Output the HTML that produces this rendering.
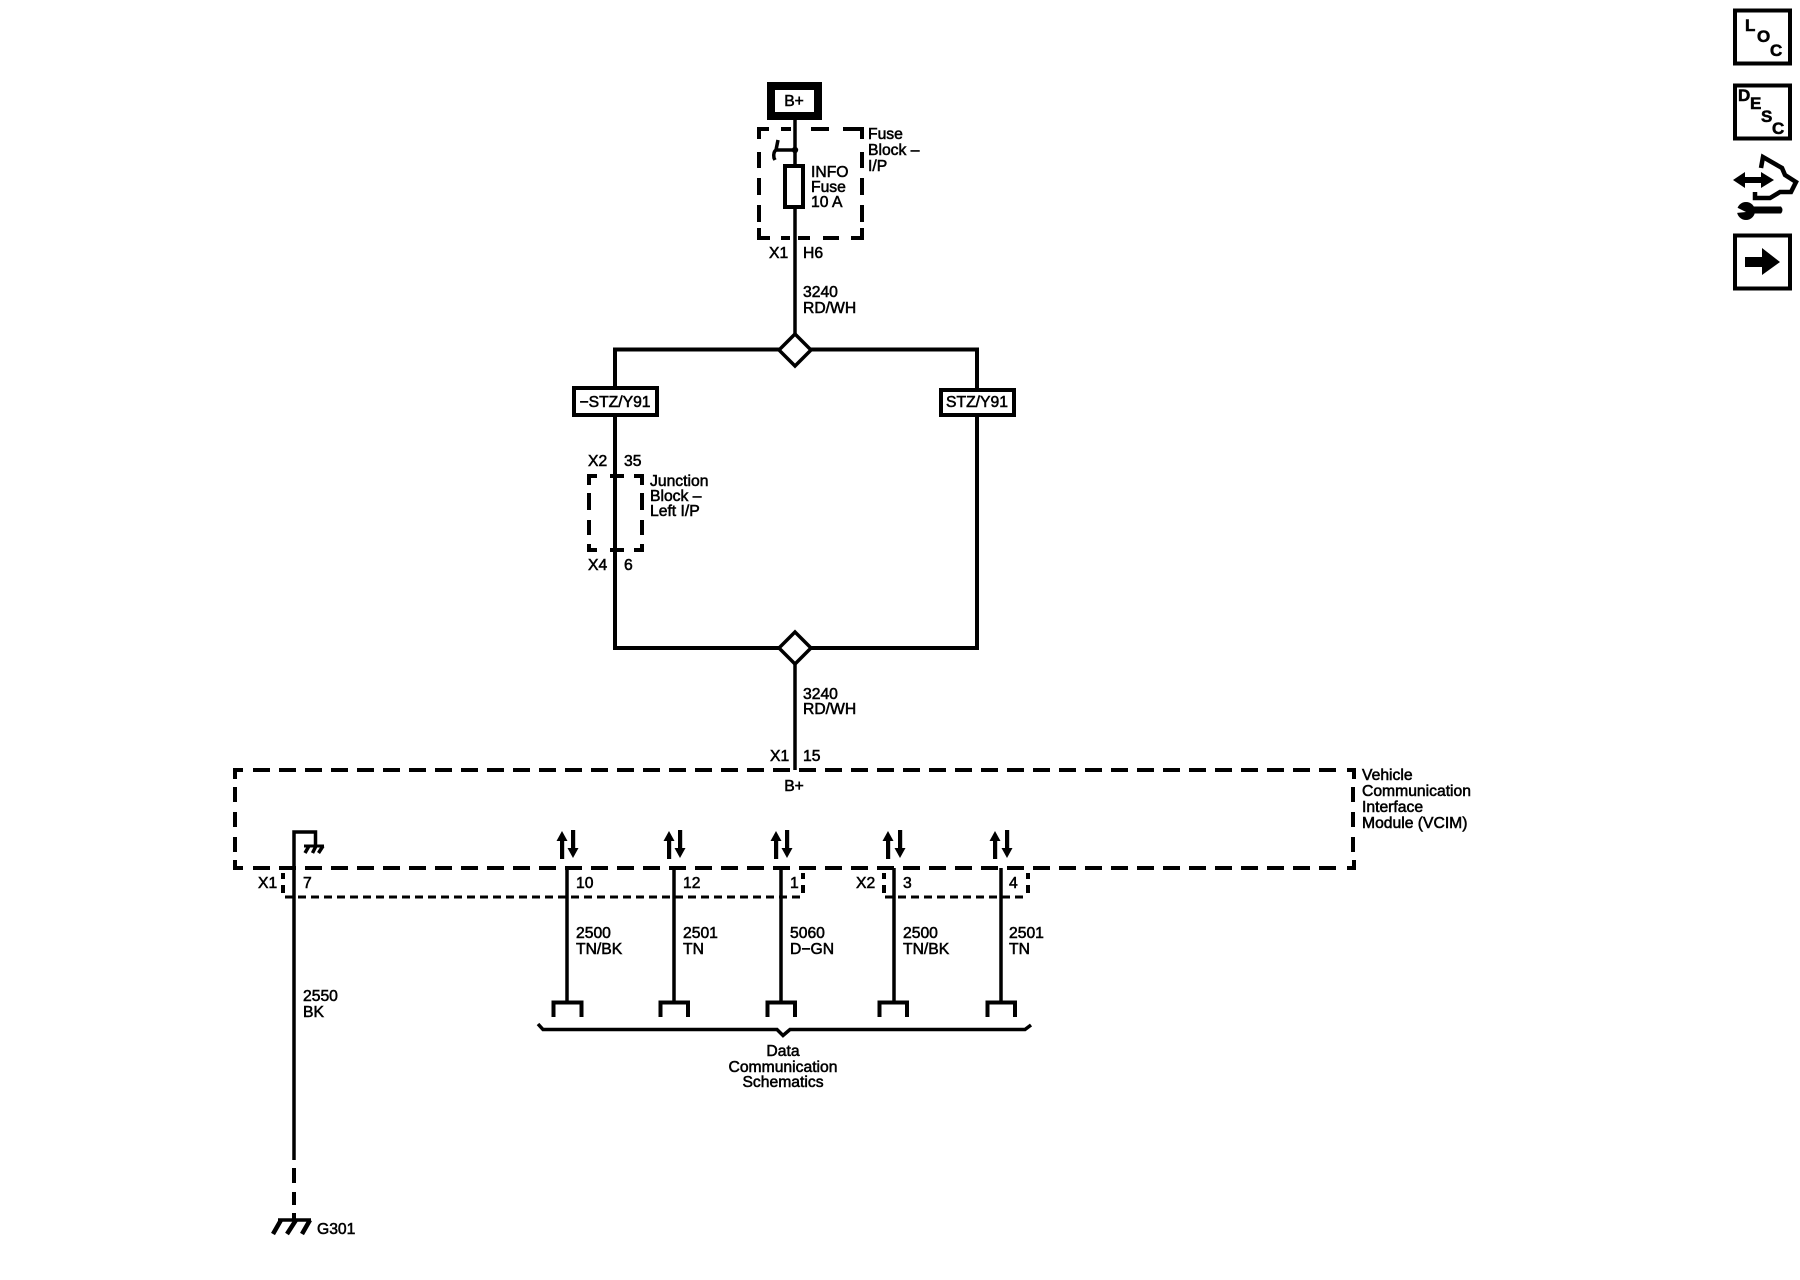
<!DOCTYPE html>
<html><head><meta charset="utf-8"><style>
html,body{margin:0;padding:0;background:#fff}
svg{display:block}
text{font-family:"Liberation Sans",sans-serif;font-size:15.7px;fill:#000;stroke:#000;stroke-width:.55px}
.m{text-anchor:middle}
.b{font-weight:bold;font-size:17px}
.w{fill:none;stroke:#000;stroke-width:3.5;stroke-linecap:butt}
.d{fill:none;stroke:#000;stroke-width:4;stroke-dasharray:17 9}
.v{fill:none;stroke:#000;stroke-width:4;stroke-dasharray:15 10}
.s{fill:none;stroke:#000;stroke-width:3;stroke-dasharray:8 5}
.f{fill:none;stroke:#000;stroke-width:4}
</style></head><body>
<svg width="1800" height="1280" viewBox="0 0 1800 1280" xmlns="http://www.w3.org/2000/svg">
<rect width="1800" height="1280" fill="#fff"/>

<!-- right icons -->
<rect x="1735" y="10.5" width="55" height="53" class="f"/>
<text class="b" x="1745" y="31">L</text><text class="b" x="1757" y="42">O</text><text class="b" x="1770" y="56">C</text>
<rect x="1735" y="85.5" width="55" height="53" class="f"/>
<text class="b" x="1738" y="101">D</text><text class="b" x="1750" y="109">E</text><text class="b" x="1761" y="122">S</text><text class="b" x="1772" y="134">C</text>
<polygon points="1733,180 1745,172 1745,177 1761,177 1761,172 1774,180 1761,188 1761,183 1745,183 1745,188" fill="#000"/>
<polyline points="1761,168 1763,157 1782,168 1785,175 1796,182 1791,192 1780,192 1770,198 1755,198 1755,192" fill="none" stroke="#000" stroke-width="4.5"/>
<circle cx="1746" cy="211" r="9" fill="#000"/>
<path d="M1750,206.5 H1781 Q1784,210 1781,213.5 H1750Z" fill="#000"/>
<path d="M1736,207 L1746,212 L1736,213Z" fill="#fff"/>
<rect x="1735" y="235.5" width="55" height="53" class="f"/>
<polygon points="1745,257 1762,257 1762,248 1780,262 1762,275 1762,267 1745,267" fill="#000"/>

<!-- top wire -->
<line x1="795" y1="120" x2="795" y2="340" class="w"/>

<!-- B+ box -->
<rect x="771" y="86" width="47" height="30" fill="#fff" stroke="#000" stroke-width="8"/>
<text class="m" x="794" y="106">B+</text>

<!-- Fuse block dashed -->
<g fill="none" stroke="#000" stroke-width="4">
<path d="M769,129 H759 V139"/>
<path d="M781,129 H791 M811,129 H829 M843,129 H862 V139"/>
<path d="M759,152 V168 M759,178 V195 M759,205 V222 M759,228 V238 H770"/>
<path d="M862,152 V168 M862,178 V195 M862,205 V222 M862,228 V238 H851"/>
<path d="M781,238 H790 M798,238 H810 M823,238 H839"/>
</g>
<!-- switch -->
<circle cx="795" cy="150" r="3.2" fill="#000"/>
<path d="M795,150 H776 Q773,152 774,158 L775,160 M776,150 L778,140" fill="none" stroke="#000" stroke-width="3.5"/>
<!-- fuse -->
<rect x="785" y="166" width="18" height="41" fill="#fff" stroke="#000" stroke-width="4"/>
<text x="811" y="177">INFO</text><text x="811" y="192">Fuse</text><text x="811" y="207">10 A</text>
<text x="868" y="139">Fuse</text><text x="868" y="155">Block –</text><text x="868" y="171">I/P</text>
<text x="769" y="258">X1</text><text x="803" y="258">H6</text>
<text x="803" y="297">3240</text><text x="803" y="313">RD/WH</text>

<!-- loop -->
<path d="M615,386 V349.5 H977 V388 M615,417 V648 H977 V415" fill="none" stroke="#000" stroke-width="4"/>
<polygon points="795,334 811,350 795,366 779,350" fill="#fff" stroke="#000" stroke-width="3.5"/>
<polygon points="795,632 811,648 795,664 779,648" fill="#fff" stroke="#000" stroke-width="3.5"/>
<rect x="574" y="388" width="83" height="27" fill="#fff" stroke="#000" stroke-width="4"/>
<text class="m" x="615" y="407">−STZ/Y91</text>
<rect x="941" y="390" width="73" height="25" fill="#fff" stroke="#000" stroke-width="4"/>
<text class="m" x="977" y="407">STZ/Y91</text>

<!-- junction block -->
<g fill="none" stroke="#000" stroke-width="4">
<path d="M597,476 H589 V485 M610,476 H624 M634,476 H642 V485"/>
<path d="M589,493 V510 M589,520 V535 M589,544 V550 H597 M610,550 H624 M634,550 H642 V544 M642,535 V520 M642,510 V493"/>
</g>
<text x="588" y="466">X2</text><text x="624" y="466">35</text>
<text x="650" y="486">Junction</text><text x="650" y="501">Block –</text><text x="650" y="516">Left I/P</text>
<text x="588" y="570">X4</text><text x="624" y="570">6</text>

<!-- lower wire -->
<line x1="795" y1="664" x2="795" y2="770" class="w"/>
<text x="803" y="699">3240</text><text x="803" y="714">RD/WH</text>
<text x="770" y="761">X1</text><text x="803" y="761">15</text>
<text class="m" x="794" y="791">B+</text>

<!-- VCIM -->
<line x1="253" y1="770" x2="1344" y2="770" class="d"/>
<line x1="253" y1="868" x2="1344" y2="868" class="d"/>
<path d="M243,770 H235 V779 M235,860 V868 H243 M1347,770 H1354 V779 M1354,860 V868 H1347" fill="none" stroke="#000" stroke-width="4"/>
<line x1="235" y1="787" x2="235" y2="856" class="v"/>
<line x1="1353" y1="787" x2="1353" y2="856" class="v"/>
<text x="1362" y="780">Vehicle</text><text x="1362" y="796">Communication</text><text x="1362" y="812">Interface</text><text x="1362" y="828">Module (VCIM)</text>

<!-- sub connectors -->
<line x1="285" y1="897" x2="803" y2="897" class="s"/>
<line x1="885" y1="897" x2="1026" y2="897" class="s"/>
<path d="M283,873 V879 M283,885 V893 M803,873 V879 M803,885 V893 M884,873 V879 M884,885 V893 M1028,873 V879 M1028,885 V893" fill="none" stroke="#000" stroke-width="4"/>

<!-- ground wire -->
<path d="M294,1160 V832 H315.5 V846" fill="none" stroke="#000" stroke-width="3.5"/>
<path d="M304,846 H324" fill="none" stroke="#000" stroke-width="3"/>
<path d="M309,846 L305,853 M316,846 L312.5,853 M323,846 L318.5,853" fill="none" stroke="#000" stroke-width="3.5"/>
<path d="M294,1168 V1183 M294,1192 V1205 M294,1213 V1219" fill="none" stroke="#000" stroke-width="4"/>
<path d="M278,1220 H311" fill="none" stroke="#000" stroke-width="3.5"/>
<path d="M281,1220 L273,1234 M296,1220 L287,1234 M310,1220 L302,1234" fill="none" stroke="#000" stroke-width="4.5"/>
<text x="317" y="1234">G301</text>
<text x="258" y="888">X1</text><text x="303" y="888">7</text>
<text x="303" y="1001">2550</text><text x="303" y="1017">BK</text>

<!-- signal wires and connectors -->
<g fill="none" stroke="#000" stroke-width="3.5">
<path d="M567,868 V1002"/><path d="M674,868 V1002"/><path d="M781,868 V1002"/><path d="M894,868 V1002"/><path d="M1001,868 V1002"/>
<path d="M538,1024 L543,1029.5 H777 L783,1035.5 L790,1029.5 H1025 L1031,1025"/>
</g>
<g fill="none" stroke="#000" stroke-width="4">
<path d="M553.5,1017 V1002.5 H581.5 V1017"/>
<path d="M660.5,1017 V1002.5 H688 V1017"/>
<path d="M767.5,1017 V1002.5 H795 V1017"/>
<path d="M879.5,1017 V1002.5 H907 V1017"/>
<path d="M987.5,1017 V1002.5 H1015 V1017"/>
</g>

<!-- arrows -->
<defs>
<g id="up"><rect x="-2" y="9" width="4.2" height="19" fill="#000"/><polygon points="0,0 5.5,10 -5.5,10" fill="#000"/></g>
<g id="dn"><rect x="-2" y="0" width="4.2" height="19" fill="#000"/><polygon points="0,28 5.5,18 -5.5,18" fill="#000"/></g>
</defs>
<use href="#up" x="562" y="831"/><use href="#dn" x="573" y="830"/>
<use href="#up" x="669" y="831"/><use href="#dn" x="680" y="830"/>
<use href="#up" x="776" y="831"/><use href="#dn" x="787" y="830"/>
<use href="#up" x="888" y="831"/><use href="#dn" x="900" y="830"/>
<use href="#up" x="995" y="831"/><use href="#dn" x="1007" y="830"/>

<!-- labels -->
<text x="576" y="888">10</text><text x="683" y="888">12</text><text x="790" y="888">1</text>
<text x="856" y="888">X2</text><text x="903" y="888">3</text><text x="1009" y="888">4</text>
<text x="576" y="938">2500</text><text x="576" y="954">TN/BK</text>
<text x="683" y="938">2501</text><text x="683" y="954">TN</text>
<text x="790" y="938">5060</text><text x="790" y="954">D−GN</text>
<text x="903" y="938">2500</text><text x="903" y="954">TN/BK</text>
<text x="1009" y="938">2501</text><text x="1009" y="954">TN</text>
<text class="m" x="783" y="1056">Data</text>
<text class="m" x="783" y="1072">Communication</text>
<text class="m" x="783" y="1087">Schematics</text>
</svg>
</body></html>
